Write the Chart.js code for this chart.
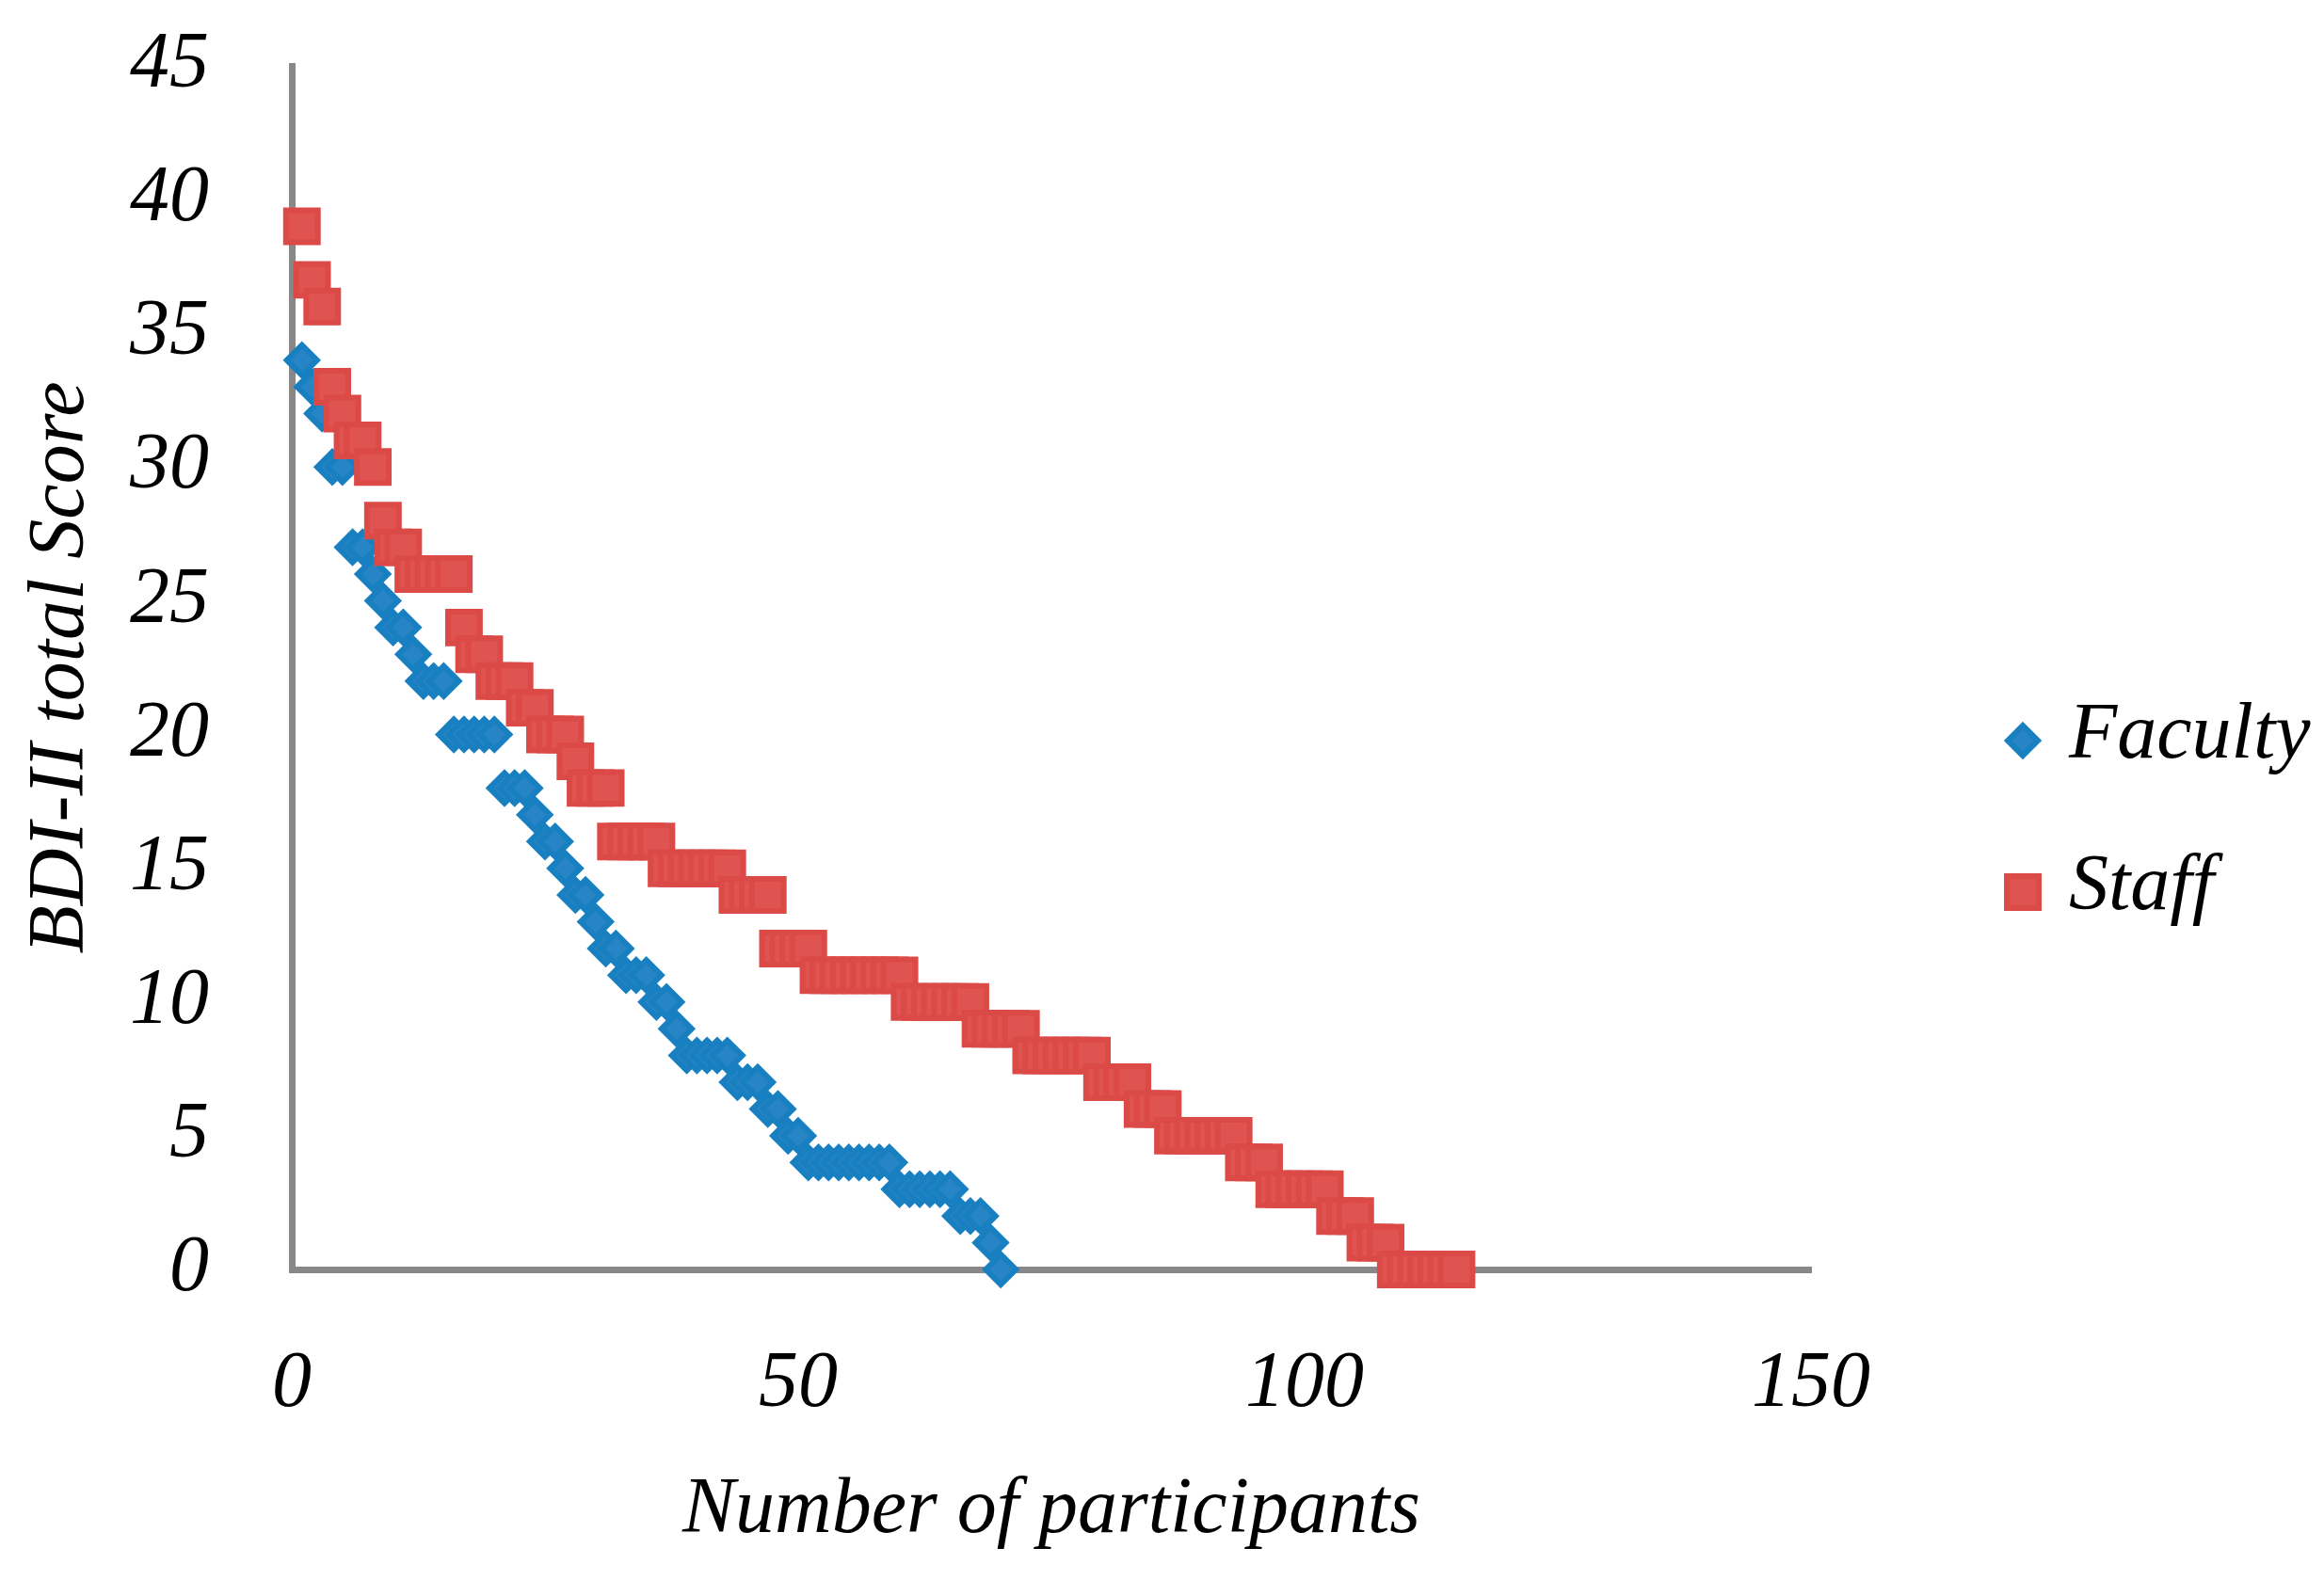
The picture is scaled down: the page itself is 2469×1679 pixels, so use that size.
<!DOCTYPE html>
<html>
<head>
<meta charset="utf-8">
<style>
html,body{margin:0;padding:0;background:#ffffff;overflow:hidden}
#wrap{width:2469px;height:1679px;position:relative}
</style>
<script src="https://cdn.jsdelivr.net/npm/chart.js@4/dist/chart.umd.min.js"></script>
</head>
<body>
<div id="wrap"><canvas id="c" width="2469" height="1679"></canvas></div>
<script>
// ---------- data ----------
const seriesNames = ['Faculty', 'Staff'];
const facultyScores = [34,33,32,30,30,27,27,26,25,24,24,23,22,22,22,20,20,20,20,20,18,18,18,17,16,16,15,14,14,13,12,12,11,11,11,10,10,9,8,8,8,8,8,7,7,7,6,6,5,5,4,4,4,4,4,4,4,4,4,3,3,3,3,3,3,2,2,2,1,0];
const staffScores = [39,37,36,33,32,31,31,30,28,27,27,26,26,26,26,26,24,23,23,22,22,22,21,21,20,20,20,19,18,18,18,16,16,16,16,16,15,15,15,15,15,15,15,14,14,14,14,12,12,12,12,11,11,11,11,11,11,11,11,11,10,10,10,10,10,10,10,9,9,9,9,9,8,8,8,8,8,8,8,7,7,7,7,6,6,6,5,5,5,5,5,5,5,4,4,4,3,3,3,3,3,3,2,2,2,1,1,1,0,0,0,0,0,0,0];
const xTickValues = [0, 50, 100, 150];
const yTickValues = [0, 5, 10, 15, 20, 25, 30, 35, 40, 45];
const xTitle = 'Number of participants';
const yTitle = 'BDI-II total Score';

// ---------- build points (x = participant rank) ----------
const toPoints = arr => arr.map((v, i) => ({x: i + 1, y: v}));

const FONT = "'Liberation Serif', 'DejaVu Serif', serif";
const FS = 84;

const styles = [
  {pointStyle: 'rectRot', radius: 16, bg: '#2784c5', border: '#1880c0', bw: 6},
  {pointStyle: 'rect', radius: 24, bg: '#df5350', border: '#db4a47', bw: 6}
];

const legendPlugin = {
  id: 'sideLegend',
  afterDraw(chart) {
    const ctx = chart.ctx;
    const pos = [{x: 2149, y: 787}, {x: 2149, y: 948}];
    ctx.save();
    chart.data.datasets.forEach((ds, i) => {
      const st = styles[i];
      ctx.fillStyle = st.bg;
      ctx.strokeStyle = st.border;
      ctx.lineWidth = st.bw;
      if (Chart.helpers && Chart.helpers.drawPoint) {
        Chart.helpers.drawPoint(ctx, {pointStyle: st.pointStyle, radius: st.radius, borderWidth: st.bw, rotation: 0}, pos[i].x, pos[i].y);
      }
      ctx.fillStyle = '#000';
      ctx.font = 'italic ' + FS + 'px ' + FONT;
      ctx.textAlign = 'left';
      ctx.textBaseline = 'middle';
      ctx.fillText(ds.label, 2198, pos[i].y - 4);
    });
    ctx.restore();
  }
};

const datasets = [
  {label: seriesNames[0], data: toPoints(facultyScores), order: 1},
  {label: seriesNames[1], data: toPoints(staffScores), order: 0}
].map((d, i) => Object.assign(d, {
  pointStyle: styles[i].pointStyle,
  pointRadius: styles[i].radius,
  pointBackgroundColor: styles[i].bg,
  pointBorderColor: styles[i].border,
  pointBorderWidth: styles[i].bw,
  pointHoverRadius: styles[i].radius,
  showLine: false,
  clip: false
}));

new Chart(document.getElementById('c'), {
  type: 'scatter',
  data: {datasets},
  plugins: [legendPlugin],
  options: {
    responsive: false,
    devicePixelRatio: 1,
    animation: false,
    events: [],
    layout: {padding: {left: 0, top: 70, right: 545, bottom: 0}},
    plugins: {legend: {display: false}, tooltip: {enabled: false}},
    scales: {
      x: {
        type: 'linear',
        min: 0, max: 150,
        afterBuildTicks(scale) { scale.ticks = xTickValues.map(v => ({value: v})); },
        afterFit(scale) { scale.height = 330; scale.paddingLeft = 0; scale.paddingRight = 0; },
        grid: {display: false, drawTicks: false},
        border: {display: true, color: '#888888', width: 7},
        ticks: {color: '#000', padding: 73, font: {family: FONT, size: FS, style: 'italic', lineHeight: 1.2}},
        title: {display: true, text: xTitle, color: '#000', padding: {top: 0, bottom: 23}, font: {family: FONT, size: FS, style: 'italic', lineHeight: 1.2}}
      },
      y: {
        type: 'linear',
        min: 0, max: 45,
        afterBuildTicks(scale) { scale.ticks = yTickValues.map(v => ({value: v})); },
        afterFit(scale) { scale.width = 310; scale.paddingTop = 0; scale.paddingBottom = 0; },
        grid: {display: false, drawTicks: false},
        border: {display: true, color: '#888888', width: 7},
        ticks: {color: '#000', padding: 88, font: {family: FONT, size: FS, style: 'italic', lineHeight: 1.2}},
        title: {display: true, text: yTitle, color: '#000', padding: {top: 16, bottom: 0}, font: {family: FONT, size: FS, style: 'italic', lineHeight: 1.2}}
      }
    }
  }
});
</script>
</body>
</html>
